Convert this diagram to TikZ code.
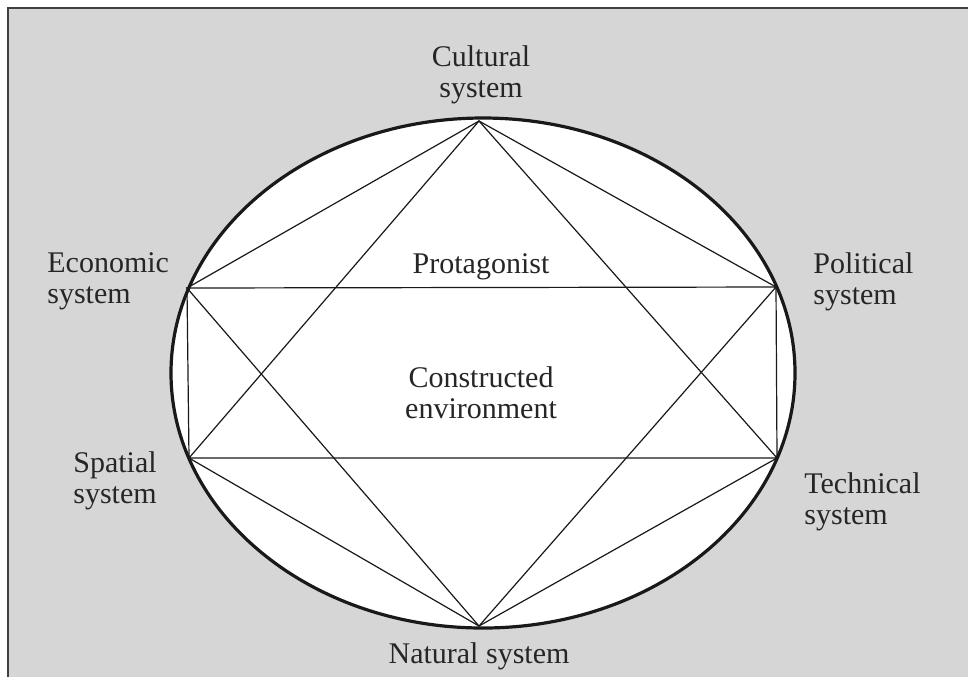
\documentclass[tikz,border=0pt]{standalone}
\usepackage{fontspec}
\setmainfont{Liberation Serif}

\begin{document}
\begin{tikzpicture}[x=0.5pt, y=-0.5pt,
    txt/.style={font=\fontsize{15}{15.5}\selectfont, text=black!85, inner sep=0pt},
    link/.style={draw=black!90, line width=0.6pt}]
   \useasboundingbox (0,0) rectangle (968,677);
   \fill[black!16] (8,8) rectangle (968,677);
   \draw[black!75, line width=1pt] (8,677) -- (8,8) -- (968,8);
   \draw[fill=white, draw=black!90, line width=1.6pt] (483,373) ellipse [x radius=312, y radius=255];
   \coordinate (cult) at (479,121);
   \coordinate (natur) at (479,626);
   \coordinate (econ) at (187,288);
   \coordinate (polit) at (776,287);
   \coordinate (spat) at (189,458);
   \coordinate (techn) at (777,458);
   \draw[link] (econ) -- (cult) -- (polit) -- (techn) -- (natur) -- (spat) -- cycle;
   \draw[link] (cult) -- (spat) -- (techn) -- cycle;
   \draw[link] (econ) -- (polit) -- (natur) -- cycle;
   \node[txt, align=center] (cultural) at (481,75) {Cultural\\system};
   \node[txt, align=left, anchor=west] (economic) at (47,281) {Economic\\system};
   \node[txt, align=left, anchor=west] (political) at (813,282) {Political\\system};
   \node[txt, align=left, anchor=west] (spatial) at (73,481) {Spatial\\system};
   \node[txt, align=left, anchor=west] (technical) at (804,502) {Technical\\system};
   \node[txt] (natural) at (479,656) {Natural system};
   \node[txt] (protag) at (481,267) {Protagonist};
   \node[txt, align=center] (constr) at (481,393) {Constructed\\environment};
\end{tikzpicture}
\end{document}
